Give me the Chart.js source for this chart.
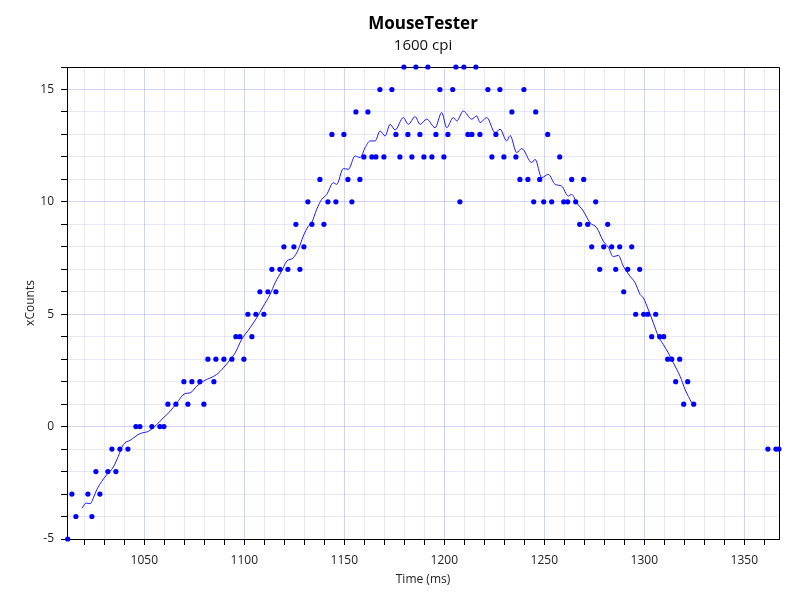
<!DOCTYPE html>
<html>
<head>
<meta charset="utf-8">
<script src="https://cdn.jsdelivr.net/npm/chart.js@4"></script>
<style>
  html, body { margin: 0; padding: 0; background: #fff; }
  #wrap { width: 800px; height: 600px; }
</style>
</head>
<body>
<div id="wrap"><canvas id="chart" width="800" height="600"></canvas></div>
<script>
// raw counts (dots)
const times = [
    1011.7, 1013.8, 1015.8, 1021.8, 1023.8, 1025.8, 1027.8, 1031.8, 1033.8, 1035.8,
    1037.8, 1041.8, 1045.8, 1047.8, 1053.8, 1057.8, 1059.8, 1061.8, 1065.8, 1069.8,
    1071.8, 1073.8, 1077.8, 1079.8, 1081.8, 1084.8, 1085.8, 1089.8, 1093.8, 1095.8,
    1097.8, 1099.8, 1101.8, 1103.8, 1105.8, 1107.8, 1109.8, 1111.8, 1113.8, 1115.8,
    1117.8, 1119.8, 1121.8, 1124.8, 1125.8, 1127.8, 1129.8, 1131.8, 1133.8, 1137.8,
    1139.8, 1141.8, 1143.8, 1145.8, 1149.8, 1151.8, 1153.8, 1155.8, 1157.8, 1159.8,
    1161.8, 1163.8, 1165.8, 1167.8, 1169.8, 1173.8, 1175.8, 1177.8, 1179.8, 1181.8,
    1183.8, 1185.8, 1187.8, 1189.8, 1191.8, 1193.8, 1195.8, 1197.8, 1199.8, 1201.8,
    1204.2, 1205.8, 1207.8, 1209.8, 1211.8, 1213.8, 1215.8, 1217.8, 1221.8, 1223.8,
    1225.8, 1227.8, 1229.8, 1233.8, 1235.8, 1237.8, 1239.8, 1241.8, 1244.7, 1245.7,
    1247.7, 1249.7, 1251.7, 1253.7, 1257.7, 1259.7, 1261.7, 1263.7, 1265.7, 1267.7,
    1269.7, 1271.7, 1273.7, 1275.7, 1277.7, 1279.7, 1281.7, 1283.7, 1285.7, 1287.7,
    1289.7, 1291.7, 1293.7, 1295.7, 1297.7, 1299.7, 1301.7, 1303.7, 1305.7, 1307.7,
    1309.7, 1311.7, 1313.7, 1315.7, 1317.7, 1319.7, 1321.7, 1324.7, 1361.8, 1365.8,
    1367.3
];
const counts = [
    -5, -3, -4, -3, -4, -2, -3, -2, -1, -2,
    -1, -1, 0, 0, 0, 0, 0, 1, 1, 2,
    1, 2, 2, 1, 3, 2, 3, 3, 3, 4,
    4, 3, 5, 4, 5, 6, 5, 6, 7, 6,
    7, 8, 7, 8, 9, 7, 8, 10, 9, 11,
    9, 10, 13, 10, 13, 11, 10, 14, 11, 12,
    14, 12, 12, 15, 12, 15, 13, 12, 16, 13,
    12, 16, 13, 12, 16, 12, 13, 15, 12, 13,
    15, 16, 10, 16, 13, 13, 16, 13, 15, 12,
    13, 15, 12, 14, 12, 11, 15, 11, 10, 14,
    11, 10, 13, 10, 12, 10, 10, 11, 10, 9,
    11, 9, 8, 10, 7, 8, 9, 8, 7, 8,
    6, 7, 8, 5, 7, 5, 5, 4, 5, 4,
    4, 3, 3, 2, 3, 1, 2, 1, -1, -1,
    -1
];

// smoothed curve
const smoothTimes = [
    1018.9, 1020.9, 1022.9, 1024.5, 1026.2, 1028.7, 1031.2, 1034.5, 1037.0, 1039.5,
    1042.9, 1047.9, 1052.0, 1056.2, 1059.5, 1062.9, 1066.2, 1070.4, 1072.9, 1076.2,
    1079.5, 1086.2, 1089.5, 1092.9, 1095.4, 1098.7, 1102.9, 1106.2, 1109.5, 1112.9,
    1115.4, 1118.7, 1121.2, 1124.5, 1127.0, 1129.5, 1132.0, 1133.7, 1136.2, 1138.7,
    1141.2, 1144.5, 1146.2, 1149.5, 1152.0, 1155.4, 1157.9, 1160.4, 1162.9, 1165.4,
    1167.9, 1170.4, 1172.9, 1175.4, 1179.5, 1182.0, 1185.4, 1187.9, 1191.2, 1195.4,
    1198.7, 1201.2, 1204.5, 1206.2, 1209.5, 1213.7, 1216.2, 1217.9, 1221.2, 1225.4,
    1227.9, 1231.2, 1232.9, 1236.2, 1238.7, 1243.7, 1245.4, 1248.7, 1252.0, 1255.4,
    1258.7, 1262.0, 1263.7, 1266.2, 1269.5, 1272.9, 1276.2, 1279.5, 1282.0, 1284.5,
    1287.0, 1289.5, 1292.9, 1295.4, 1297.9, 1299.5, 1302.0, 1304.5, 1307.0, 1309.5,
    1312.0, 1314.5, 1317.9, 1320.4, 1323.7
];
const smoothCounts = [
    -3.62, -3.40, -3.43, -3.18, -2.81, -2.44, -2.14, -1.80, -1.32, -0.80,
    -0.61, -0.31, -0.21, 0.09, 0.39, 0.68, 1.05, 1.47, 1.50, 1.80,
    2.02, 2.32, 2.61, 2.98, 3.28, 3.88, 4.40, 4.84, 5.36, 5.88,
    6.40, 6.92, 7.36, 7.51, 7.88, 8.48, 8.92, 9.07, 9.67, 10.11,
    10.33, 10.85, 10.78, 11.48, 11.45, 12.04, 11.97, 12.41, 12.71, 12.71,
    13.15, 12.93, 13.45, 13.20, 13.75, 13.45, 13.79, 13.45, 13.68, 13.30,
    13.97, 13.30, 13.75, 13.60, 14.04, 13.68, 13.82, 13.53, 13.75, 13.08,
    13.23, 12.71, 12.95, 12.19, 12.37, 11.75, 11.89, 11.08, 11.22, 10.78,
    10.70, 10.26, 10.33, 9.96, 9.59, 9.07, 8.85, 8.25, 7.98, 7.56,
    7.62, 7.14, 6.69, 6.40, 5.88, 5.73, 5.21, 4.62, 4.02, 3.65,
    3.28, 2.84, 2.24, 1.65, 1.06
];

const FONT = "'Open Sans', 'Noto Sans', sans-serif";
const gridMinor = 'rgba(40, 40, 200, 0.10)';
const gridMajor = 'rgba(40, 40, 200, 0.20)';

// black frame on top and right of the plot
const frame = {
    id: 'frame',
    beforeDatasetsDraw(chart) {
        const { ctx, chartArea: a } = chart;
        ctx.save();
        ctx.strokeStyle = '#000';
        ctx.lineWidth = 1;
        ctx.beginPath();
        ctx.moveTo(a.left, a.top + 0.5);
        ctx.lineTo(a.right + 0.5, a.top + 0.5);
        ctx.lineTo(a.right + 0.5, a.bottom);
        ctx.stroke();
        ctx.restore();
    }
};

new Chart(document.getElementById('chart'), {
    type: 'scatter',
    data: {
        datasets: [{
            data: times.map((t, i) => ({ x: t, y: counts[i] })),
            backgroundColor: '#0000ff',
            borderWidth: 0,
            pointRadius: 2.6,
            clip: false
        }, {
            type: 'line',
            data: smoothTimes.map((t, i) => ({ x: t, y: smoothCounts[i] })),
            borderColor: '#1a1aff',
            borderWidth: 1,
            pointRadius: 0,
            cubicInterpolationMode: 'monotone',
            fill: false
        }]
    },
    options: {
        responsive: false,
        animation: false,
        layout: { padding: { left: 0, right: 21, top: 0, bottom: 0 } },
        plugins: {
            legend: { display: false },
            tooltip: { enabled: false },
            title: {
                display: true,
                fullSize: false,
                text: 'MouseTester',
                color: '#000',
                font: { family: FONT, size: 17, weight: 'bold' },
                padding: { top: 14.3, bottom: 1 }
            },
            subtitle: {
                display: true,
                fullSize: false,
                text: '1600 cpi',
                color: '#111',
                font: { family: FONT, size: 15 },
                padding: { top: 1.3, bottom: 12 }
            }
        },
        scales: {
            x: {
                type: 'linear',
                min: 1011.35,
                max: 1367.35,
                afterFit: s => { s.height = 61; },
                border: { color: '#000', width: 1 },
                grid: {
                    color: c => (c.tick && c.tick.value % 50 === 0) ? gridMajor : gridMinor,
                    tickColor: '#000',
                    tickLength: 6
                },
                ticks: {
                    stepSize: 10,
                    includeBounds: false,
                    autoSkip: false,
                    maxRotation: 0,
                    padding: 8,
                    color: '#222',
                    font: { family: FONT, size: 12 },
                    callback: v => v % 50 === 0 ? v : ''
                },
                title: {
                    display: true,
                    text: 'Time (ms)',
                    color: '#222',
                    font: { family: FONT, size: 12 },
                    padding: { top: 0, bottom: 13 }
                }
            },
            y: {
                min: -5,
                max: 16,
                afterFit: s => { s.width = 67; },
                border: { color: '#000', width: 1 },
                grid: {
                    color: c => (c.tick && c.tick.value % 5 === 0) ? gridMajor : gridMinor,
                    tickColor: '#000',
                    tickLength: 6
                },
                ticks: {
                    stepSize: 1,
                    autoSkip: false,
                    padding: 7,
                    color: '#222',
                    font: { family: FONT, size: 12 },
                    callback: v => v % 5 === 0 ? v : ''
                },
                title: {
                    display: true,
                    text: 'xCounts',
                    color: '#222',
                    font: { family: FONT, size: 12 },
                    padding: { top: 23, bottom: 0 }
                }
            }
        }
    },
    plugins: [frame]
});
</script>
</body>
</html>
